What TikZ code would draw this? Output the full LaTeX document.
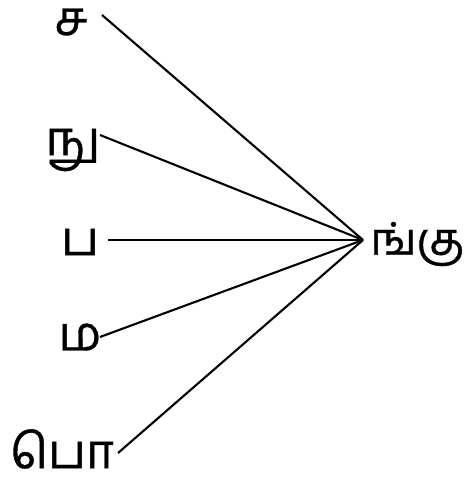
\documentclass[tikz,border=0pt]{standalone}
\usepackage{fontspec}
\newfontfamily\tamil[Script=Tamil,FakeBold=0.8]{Hind Madurai}
\begin{document}
\begin{tikzpicture}[x=1pt,y=-1pt,
  lbl/.style={inner sep=0pt,font=\tamil\fontsize{48}{48}\selectfont},
  link/.style={line width=2.1pt}]
\useasboundingbox (0,0) rectangle (469,490);
\node[lbl] (sa) at (71,22) {ச};
\node[lbl] (nu) at (73,150) {நு};
\node[lbl] (pa) at (80,242) {ப};
\node[lbl] (ma) at (80,337) {ம};
\node[lbl] (po) at (62,449) {பொ};
\node[lbl,anchor=west,font=\tamil\fontsize{45}{45}\selectfont] (ngu) at (370,244) {ங்கு};
\coordinate (hub) at (363,240);
\coordinate (s1) at (102,15);
\coordinate (s2) at (100,135);
\coordinate (s3) at (108,240);
\coordinate (s4) at (100,337);
\coordinate (s5) at (118,453);
\foreach \s in {s1,s2,s3,s4,s5} \draw[link] (\s) -- (hub);
\end{tikzpicture}
\end{document}
